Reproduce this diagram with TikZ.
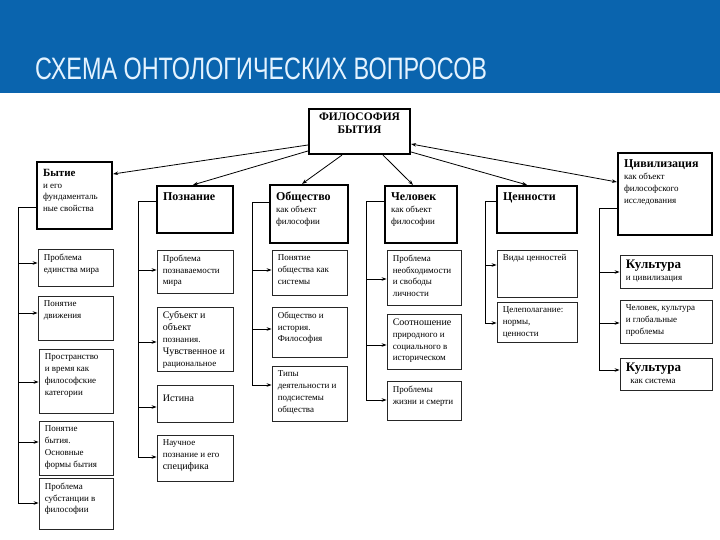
\documentclass[tikz,border=0pt]{standalone}
\usepackage{fontspec}
\setmainfont{Liberation Serif}
\newfontfamily\headfont{Liberation Sans}
\usetikzlibrary{arrows.meta,fit}
\definecolor{band}{RGB}{10,100,174}
\definecolor{bandtext}{RGB}{228,243,255}
\tikzset{
  mainbox/.style={draw=black, line width=2.2pt},
  subbox/.style={draw=black!85, line width=0.8pt},
  txt/.style={align=left, inner sep=0pt, font=\fontsize{9}{11.8}\selectfont},
  conn/.style={draw=black, line width=0.8pt},
  arr/.style={conn, -{Stealth[length=5pt,width=3.6pt]}},
  arrb/.style={conn, {Stealth[length=5pt,width=3.6pt]}-{Stealth[length=5pt,width=3.6pt]}}
}
\newcommand\ontmain[6]{%
  \node[mainbox, fit={(#2,#3) (#4,#5)}, inner sep=0pt] (#1) {};
  \node[txt, anchor=north west] at ([xshift=7pt,yshift=-8pt]#1.north west) {#6};}
\newcommand\ontsub[6]{%
  \node[subbox, fit={(#2,#3) (#4,#5)}, inner sep=0pt] (#1) {};
  \node[txt, anchor=north west] at ([xshift=6pt,yshift=-5pt]#1.north west) {#6};}
\newcommand\mhd[1]{{\bfseries\fontsize{12}{14}\selectfont #1}}
\newcommand\mbig[1]{{\fontsize{10}{12}\selectfont #1}}
\begin{document}
\begin{tikzpicture}[x=1pt,y=-1pt]
\useasboundingbox (0,0) rectangle (720,540);
\fill[band] (0,0) rectangle (720,93);
\node[anchor=base west, inner sep=0pt, text=bandtext] (title) at (35,80)
  {\scalebox{0.755}[1]{\headfont\fontsize{31}{31}\selectfont СХЕМА ОНТОЛОГИЧЕСКИХ ВОПРОСОВ}};

% top box
\node[mainbox, fit={(309,109) (410,154)}, inner sep=0pt] (t) {};
\node[align=center, inner sep=0pt, font=\bfseries\fontsize{11.5}{12.5}\selectfont, anchor=north] at ([yshift=-5pt]t.north) {ФИЛОСОФИЯ\\БЫТИЯ};

% column 1
\ontmain{m1}{37}{162}{112}{229}{{\bfseries\fontsize{11}{13}\selectfont Бытие}\\и его\\фундаменталь\\ные свойства}
\ontsub{b11}{38}{249}{113}{286}{Проблема\\единства мира}
\ontsub{b12}{38}{296}{113}{340}{Понятие\\движения}
\ontsub{b13}{39}{349}{113}{413}{Пространство\\и время как\\философские\\категории}
\ontsub{b14}{39}{421}{113}{475}{Понятие\\бытия.\\Основные\\формы бытия}
\ontsub{b15}{39}{478}{113}{529}{Проблема\\субстанции в\\философии}

% column 2
\ontmain{m2}{157}{186}{233}{233}{\mhd{Познание}}
\ontsub{b21}{157}{250}{233}{293}{Проблема\\познаваемости\\мира}
\ontsub{b22}{157}{307}{233}{371}{\mbig{Субъект и}\\\mbig{объект}\\познания.\\\mbig{Чувственное и}\\рациональное}
\ontsub{b23}{157}{385}{233}{422}{\\\mbig{Истина}}
\ontsub{b24}{157}{435}{233}{481}{Научное\\познание и его\\\mbig{специфика}}

% column 3
\ontmain{m3}{270}{185}{348}{243}{\mhd{Общество}\\как объект\\философии}
\ontsub{b31}{272}{250}{347}{295}{Понятие\\общества как\\системы}
\ontsub{b32}{272}{307}{347}{357}{Общество и\\история.\\Философия}
\ontsub{b33}{272}{366}{347}{421}{Типы\\деятельности и\\подсистемы\\общества}

% column 4
\ontmain{m4}{385}{186}{457}{243}{\mhd{Человек}\\как объект\\философии}
\ontsub{b41}{387}{250}{461}{305}{Проблема\\необходимости\\и свободы\\личности}
\ontsub{b42}{387}{314}{461}{369}{\mbig{Соотношение}\\природного и\\социального в\\историческом}
\ontsub{b43}{387}{381}{461}{420}{Проблемы\\жизни и смерти}

% column 5
\ontmain{m5}{497}{186}{577}{233}{\mhd{Ценности}}
\ontsub{b51}{497}{250}{577}{297}{Виды ценностей}
\ontsub{b52}{497}{302}{577}{342}{Целеполагание:\\нормы,\\ценности}

% column 6
\ontmain{m6}{618}{153}{712}{235}{\mhd{Цивилизация}\\как объект\\философского\\исследования}
\ontsub{b61}{620}{255}{712}{288}{{\bfseries\fontsize{13}{14}\selectfont Культура}\\и цивилизация}
\ontsub{b62}{620}{300}{712}{343}{Человек, культура\\и глобальные\\проблемы}
\ontsub{b63}{620}{358}{712}{390}{{\bfseries\fontsize{13}{14}\selectfont Культура}\\\ \ как система}

% top connectors
\draw[arr] (t.west |- 0,145) -- (m1.east |- 0,174);
\draw[arr] (t.west |- 0,151) -- (m2.north -| 193,0);
\draw[arr] (t.south -| 342,0) -- (m3.north -| 302,0);
\draw[arr] (t.south -| 383,0) -- (m4.north -| 413,0);
\draw[arr] (t.east |- 0,152) -- (m5.north -| 527,0);
\draw[arrb] (t.east |- 0,144) -- (m6.west |- 0,182);

% column buses
\coordinate (k1) at (18,207);
\draw[conn] (m1.west |- k1) -- (k1) -- (k1 |- 0,503);
\foreach \n/\y in {b11/263,b12/313,b13/382,b14/442,b15/503}
  \draw[arr] (k1 |- 0,\y) -- (\n.west |- 0,\y);

\coordinate (k2) at (138,201);
\draw[conn] (m2.west |- k2) -- (k2) -- (k2 |- 0,457);
\foreach \n/\y in {b21/270,b22/342,b23/407,b24/457}
  \draw[arr] (k2 |- 0,\y) -- (\n.west |- 0,\y);

\coordinate (k3) at (252,202);
\draw[conn] (m3.west |- k3) -- (k3) -- (k3 |- 0,385);
\foreach \n/\y in {b31/270,b32/329,b33/385}
  \draw[arr] (k3 |- 0,\y) -- (\n.west |- 0,\y);

\coordinate (k4) at (366,201);
\draw[conn] (m4.west |- k4) -- (k4) -- (k4 |- 0,400);
\foreach \n/\y in {b41/279,b42/345,b43/400}
  \draw[arr] (k4 |- 0,\y) -- (\n.west |- 0,\y);

\coordinate (k5) at (485,201);
\draw[conn] (m5.west |- k5) -- (k5) -- (k5 |- 0,323);
\foreach \n/\y in {b51/265,b52/323}
  \draw[arr] (k5 |- 0,\y) -- (\n.west |- 0,\y);

\coordinate (k6) at (599,208);
\draw[conn] (m6.west |- k6) -- (k6) -- (k6 |- 0,370);
\foreach \n/\y in {b61/272,b62/323,b63/370}
  \draw[arr] (k6 |- 0,\y) -- (\n.west |- 0,\y);
\end{tikzpicture}
\end{document}
